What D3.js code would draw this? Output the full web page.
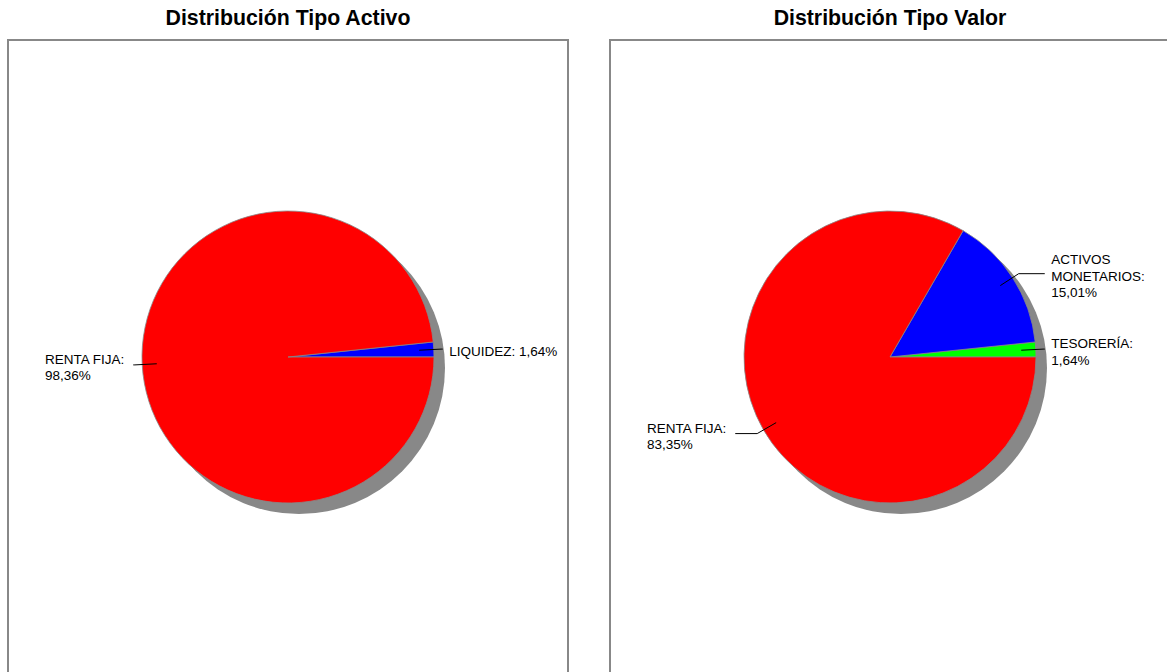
<!DOCTYPE html>
<html><head><meta charset="utf-8">
<script src="https://cdn.jsdelivr.net/npm/d3@7/dist/d3.min.js"></script>
<style>body{margin:0;background:#fff;}svg{display:block;}</style>
</head><body>
<svg id="c" width="1167" height="672"></svg>
<script>
const chartTitles = ["Distribución Tipo Activo", "Distribución Tipo Valor"];
const activoCategories = ["LIQUIDEZ", "RENTA FIJA"];
const activoValues = [1.64, 98.36];
const activoColors = ["#0000ff", "#ff0000"];
const valorCategories = ["TESORERÍA", "ACTIVOS MONETARIOS", "RENTA FIJA"];
const valorValues = [1.64, 15.01, 83.35];
const valorColors = ["#00ff00", "#0000ff", "#ff0000"];
const valorLabelLines = [["TESORERÍA:"], ["ACTIVOS", "MONETARIOS:"], ["RENTA FIJA:"]];
const activoLabelLines = [["LIQUIDEZ:"], ["RENTA FIJA:"]];

const svg = d3.select("#c");
const panelW = 560, panelTop = 40, panelGap = 42, panelX0 = 8;
const R = 146, cy = 357;
const fmt = v => v.toFixed(2).replace(".", ",") + "%";

function drawPanel(i, cats, vals, colors, lines, singleLine) {
  const x0 = panelX0 + i * (panelW + panelGap);
  const cx = x0 + panelW / 2;
  const g = svg.append("g");
  g.append("rect").attr("x", x0).attr("y", panelTop).attr("width", panelW).attr("height", 700)
    .attr("fill", "none").attr("stroke", "#888").attr("stroke-width", 2);
  g.append("text").attr("x", cx).attr("y", 25).attr("text-anchor", "middle")
    .attr("font-family", "Liberation Sans, Arial, sans-serif").attr("font-weight", "bold")
    .attr("font-size", 21.3).text(chartTitles[i]);

  const data = cats.map((c, k) => ({ c, v: vals[k], col: colors[k], lines: lines[k] }));
  // Angles: start at 3 o'clock, counterclockwise. d3 angle 0 = 12 o'clock, clockwise.
  const pie = d3.pie().value(d => d.v).sort(null)
    .startAngle(Math.PI / 2).endAngle(Math.PI / 2 - 2 * Math.PI);
  const arcs = pie(data);
  const arc = d3.arc().innerRadius(0).outerRadius(R);
  const pg = g.append("g").attr("transform", `translate(${cx},${cy})`);
  pg.append("circle").attr("cx", 11).attr("cy", 11).attr("r", R).attr("fill", "#888");
  pg.selectAll("path.s").data(arcs).join("path").attr("class", "s").attr("d", arc)
    .attr("fill", d => d.data.col).attr("stroke", "#888").attr("stroke-width", 0.8);

  const font = "Liberation Sans, Arial, sans-serif", fs = 13.5, lh = 16.5;
  arcs.forEach(a => {
    const mid = (a.startAngle + a.endAngle) / 2;
    const px = r => Math.sin(mid) * r, py = r => -Math.cos(mid) * r;
    const right = px(1) >= 0;
    const x1 = px(R * 0.9), y1 = py(R * 0.9);
    const x2 = px(R * 1.05), y2 = py(R * 1.05);
    const colX = right ? Math.max(x2, R * 1.06) : Math.min(x2, -R * 1.06);
    pg.append("polyline").attr("points", `${x1},${y1} ${x2},${y2} ${colX},${y2}`)
      .attr("fill", "none").attr("stroke", "#000").attr("stroke-width", 1);
    let txtLines = a.data.lines.slice();
    if (singleLine && right) txtLines = [txtLines.join(" ") + " " + fmt(a.data.v)];
    else txtLines.push(fmt(a.data.v));
    const t = pg.append("text").attr("font-family", font).attr("font-size", fs).attr("fill", "#000");
    const n = txtLines.length;
    txtLines.forEach((l, k) => {
      t.append("tspan").attr("x", 0).attr("y", y2 + 2.5 + (k - (n - 1) / 2) * lh).attr("dy", "0.35em").text(l);
    });
    const w = t.node().getBBox().width;
    const tx = right ? colX + 6.5 : colX - 9 - w;
    t.selectAll("tspan").attr("x", tx);
  });
}

drawPanel(0, activoCategories, activoValues, activoColors, activoLabelLines, true);
drawPanel(1, valorCategories, valorValues, valorColors, valorLabelLines, false);
</script>
</body></html>
